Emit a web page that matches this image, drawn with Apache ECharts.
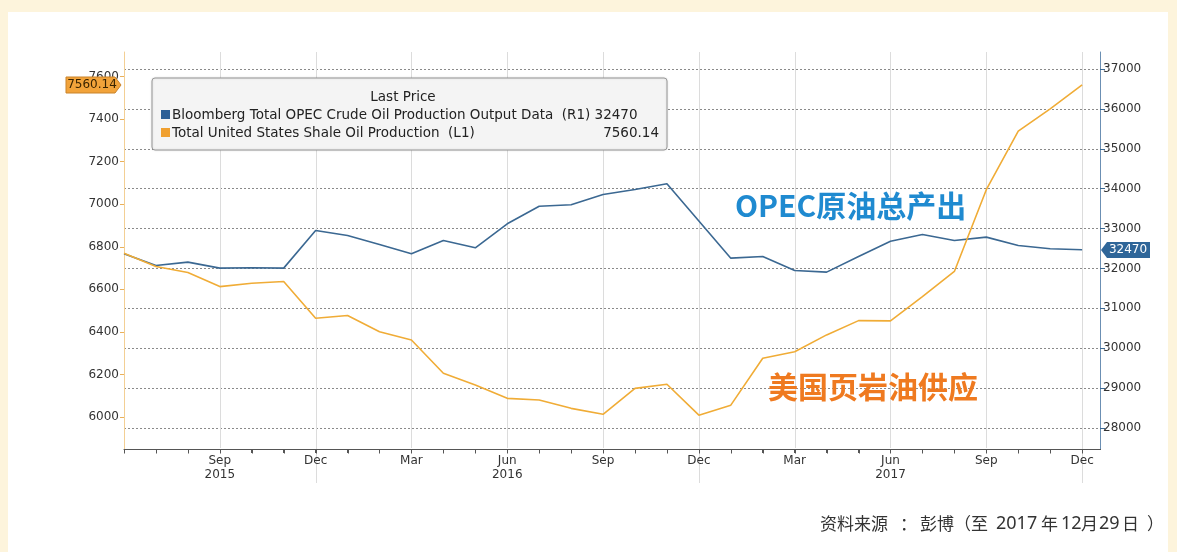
<!DOCTYPE html>
<html>
<head>
<meta charset="utf-8">
<script src="https://cdn.jsdelivr.net/npm/echarts@6/dist/echarts.min.js"></script>
<style>
  html, body { margin: 0; padding: 0; background: #fdf4dc; }
  #panel { position: absolute; left: 8px; top: 12px; width: 1160px; height: 540px; background: #ffffff; }
  #chart { position: absolute; left: 0; top: 0; width: 1177px; height: 552px; }
</style>
</head>
<body>
<div id="panel"></div>
<div id="chart"></div>
<script>
// Monthly observations, Jun 2015 – Dec 2017
const months = [
  '2015-06', '2015-07', '2015-08', '2015-09', '2015-10', '2015-11', '2015-12',
  '2016-01', '2016-02', '2016-03', '2016-04', '2016-05', '2016-06', '2016-07',
  '2016-08', '2016-09', '2016-10', '2016-11', '2016-12', '2017-01', '2017-02',
  '2017-03', '2017-04', '2017-05', '2017-06', '2017-07', '2017-08', '2017-09',
  '2017-10', '2017-11', '2017-12'
];

// Total United States Shale Oil Production (L1)
const shaleOil = [
  6770, 6707, 6679, 6613, 6629, 6637, 6464,
  6477, 6401, 6362, 6206, 6151, 6088, 6080,
  6041, 6013, 6135, 6154, 6009, 6056, 6276,
  6307, 6386, 6453, 6452, 6566, 6684, 7068,
  7343, 7448, 7560.14
];

// Bloomberg Total OPEC Crude Oil Production Output Data (R1)
const opecOutput = [
  32370, 32075, 32158, 32008, 32017, 32008, 32952,
  32827, 32601, 32368, 32702, 32518, 33120, 33561,
  33596, 33854, 33980, 34122, 33190, 32258, 32301,
  31950, 31908, 32301, 32684, 32852, 32702, 32785,
  32576, 32494, 32470
];

// Quarterly date labels on the time axis
const tickMonths = ['2015-09', '2015-12', '2016-03', '2016-06', '2016-09', '2016-12', '2017-03', '2017-06', '2017-09', '2017-12'];
const tickLabels = ['Sep\n2015', 'Dec', 'Mar', 'Jun\n2016', 'Sep', 'Dec', 'Mar', 'Jun\n2017', 'Sep', 'Dec'];
const yearBreaks = ['2015-12', '2016-12', '2017-12'];

// Value-axis ticks
const leftTicks = [6000, 6200, 6400, 6600, 6800, 7000, 7200, 7400, 7600];
const rightTicks = [28000, 29000, 30000, 31000, 32000, 33000, 34000, 35000, 36000, 37000];

const seriesNames = [
  'Bloomberg Total OPEC Crude Oil Production Output Data',
  'Total United States Shale Oil Production'
];

const FONT = '"DejaVu Sans", Verdana, sans-serif';
const CJK = '"Noto Sans CJK SC", sans-serif';
const BLUE_LINE = '#3b6892';
const ORANGE_LINE = '#f0ac36';
const AXIS_GREY = '#555';

// x position: month number counted from Jan 2015 (Jun 2015 = 6)
const monthNo = m => { const [y, mo] = m.split('-').map(Number); return (y - 2015) * 12 + mo; };
const xs = months.map(monthNo);
const tickPos = tickMonths.map(monthNo);
const breakPos = yearBreaks.map(monthNo);
const xMin = xs[0], xMax = xs[xs.length - 1] + 0.56;
const plain = v => String(v);

const chart = echarts.init(document.getElementById('chart'), null, { renderer: 'canvas' });

chart.setOption({
  animation: false,
  backgroundColor: 'transparent',
  grid: { left: 124, right: 77, top: 52, bottom: 103 },
  xAxis: {
    type: 'value', min: xMin, max: xMax, position: 'bottom',
    axisLine: { show: true, lineStyle: { color: AXIS_GREY, width: 1 } },
    axisTick: { show: true, customValues: xs, length: 4, lineStyle: { color: AXIS_GREY } },
    axisLabel: {
      customValues: tickPos,
      formatter: v => tickLabels[tickPos.indexOf(Math.round(v))] || '',
      color: '#333', fontFamily: FONT, fontSize: 12, lineHeight: 14, margin: 5
    },
    splitLine: { show: false }
  },
  yAxis: [
    {
      type: 'value', position: 'left', min: 5850, max: 7715,
      axisLine: { show: true, lineStyle: { color: '#f3cf94', width: 1 } },
      axisTick: { show: true, customValues: leftTicks, length: 4, lineStyle: { color: '#e9b05a' } },
      axisLabel: { customValues: leftTicks, formatter: plain, color: '#333', fontFamily: FONT, fontSize: 12, margin: 5 },
      splitLine: { show: false }
    },
    {
      type: 'value', position: 'right', min: 27474, max: 37426,
      axisLine: { show: true, lineStyle: { color: '#6b8fb3', width: 1 } },
      axisTick: { show: true, customValues: rightTicks, length: 5, lineStyle: { color: '#3d6a94' } },
      axisLabel: { customValues: rightTicks, formatter: plain, color: '#333', fontFamily: FONT, fontSize: 12, margin: 3 },
      splitLine: { show: true, lineStyle: { color: '#8a8a8a', width: 1, type: [2, 2] } }
    }
  ],
  series: [
    {
      name: seriesNames[0], type: 'line', yAxisIndex: 1,
      data: opecOutput.map((v, i) => [xs[i], v]),
      showSymbol: false, smooth: false,
      lineStyle: { color: BLUE_LINE, width: 1.6 }, z: 3
    },
    {
      name: seriesNames[1], type: 'line', yAxisIndex: 0,
      data: shaleOil.map((v, i) => [xs[i], v]),
      showSymbol: false, smooth: false,
      lineStyle: { color: ORANGE_LINE, width: 1.6 }, z: 4
    }
  ]
});

// Latest values for the legend and the axis tags
const lastOpec = opecOutput[opecOutput.length - 1];
const lastShale = shaleOil[shaleOil.length - 1];
const yR = Math.round(chart.convertToPixel({ yAxisIndex: 1 }, lastOpec));
const yL = Math.round(chart.convertToPixel({ yAxisIndex: 0 }, lastShale));

// Plot extents in pixels
const plotTop = Math.round(chart.convertToPixel({ yAxisIndex: 0 }, 7715));
const plotBottom = Math.round(chart.convertToPixel({ yAxisIndex: 0 }, 5850));
const xPix = v => Math.round(chart.convertToPixel({ xAxisIndex: 0 }, v)) + 0.5;
const baseY = plotBottom + 0.5;

// Quarterly vertical gridlines; year boundaries run down through the date labels
const gridLines = tickPos.map(v => ({
  type: 'line', z: 0, silent: true,
  shape: { x1: xPix(v), y1: plotTop, x2: xPix(v), y2: breakPos.includes(v) ? plotBottom + 34 : plotBottom - 1 },
  style: { stroke: '#dcdcdc', lineWidth: 1 }
}));

// Date axis baseline (a 1px bar) with a tick at every month
const baseLine = [{
  type: 'rect', z: 30, silent: true,
  shape: { x: xPix(xMin) - 0.5, y: plotBottom, width: xPix(xMax) - xPix(xMin) + 1, height: 1 },
  style: { fill: AXIS_GREY }
}].concat(xs.map(v => ({
  type: 'line', z: 5, silent: true,
  shape: { x1: xPix(v), y1: baseY, x2: xPix(v), y2: baseY + 4 },
  style: { stroke: AXIS_GREY, lineWidth: 1 }
})));

const legendFont = '13.5px ' + FONT;
const noteFont = '17px ' + CJK;
const digitFont = '18px "Noto Sans", sans-serif';
const note = (text, x, font) => ({
  type: 'text', z: 10, x: x, y: 524,
  style: { text: text, font: font, fill: '#333', verticalAlign: 'middle' }
});

chart.setOption({
  graphic: gridLines.concat(baseLine, [
    // legend box
    {
      type: 'rect', z: 20, shape: { x: 152, y: 78, width: 515, height: 72, r: 3 },
      style: { fill: '#f4f4f4', stroke: '#9a9a9a', lineWidth: 1, shadowBlur: 2, shadowColor: 'rgba(0,0,0,0.15)' }
    },
    {
      type: 'text', z: 21, x: 403, y: 97,
      style: { text: 'Last Price', font: legendFont, fill: '#222', align: 'center', verticalAlign: 'middle' }
    },
    {
      type: 'rect', z: 21, shape: { x: 161, y: 110, width: 9, height: 9 }, style: { fill: '#2d5f96' }
    },
    {
      type: 'text', z: 21, x: 172, y: 115,
      style: { text: seriesNames[0] + '  (R1) ' + lastOpec, font: legendFont, fill: '#222', verticalAlign: 'middle' }
    },
    {
      type: 'rect', z: 21, shape: { x: 161, y: 128, width: 9, height: 9 }, style: { fill: '#f0a030' }
    },
    {
      type: 'text', z: 21, x: 172, y: 133,
      style: { text: seriesNames[1] + '  (L1)', font: legendFont, fill: '#222', verticalAlign: 'middle' }
    },
    {
      type: 'text', z: 21, x: 659, y: 133,
      style: { text: String(lastShale), font: legendFont, fill: '#222', align: 'right', verticalAlign: 'middle' }
    },
    // left axis tag
    {
      type: 'polygon', z: 22,
      shape: { points: [[66, yL - 8], [115, yL - 8], [121, yL], [115, yL + 8], [66, yL + 8]] },
      style: { fill: '#f2a33a', stroke: '#c9832a', lineWidth: 1 }
    },
    {
      type: 'text', z: 23, x: 92, y: yL,
      style: { text: String(lastShale), font: '12px ' + FONT, fill: '#3a2400', align: 'center', verticalAlign: 'middle' }
    },
    // right axis tag
    {
      type: 'polygon', z: 22,
      shape: { points: [[1101, yR], [1107, yR - 8], [1150, yR - 8], [1150, yR + 8], [1107, yR + 8]] },
      style: { fill: '#2f6699' }
    },
    {
      type: 'text', z: 23, x: 1128, y: yR,
      style: { text: String(lastOpec), font: '12px ' + FONT, fill: '#ffffff', align: 'center', verticalAlign: 'middle' }
    },
    // series annotations
    {
      type: 'text', z: 10, x: 735, y: 206,
      style: { text: 'OPEC原油总产出', font: 'bold 30px ' + CJK, fill: '#1f8ad0', verticalAlign: 'middle' }
    },
    {
      type: 'text', z: 10, x: 768, y: 387,
      style: { text: '美国页岩油供应', font: 'bold 30px ' + CJK, fill: '#ef7a20', verticalAlign: 'middle' }
    },
    // source note
    note('资料来源', 820, noteFont),
    note('：', 900, noteFont),
    note('彭博（至', 920, noteFont),
    note('2017', 996, digitFont),
    note('年', 1041, noteFont),
    note('12', 1061, digitFont),
    note('月', 1081, noteFont),
    note('29', 1099, digitFont),
    note('日', 1122, noteFont),
    note('）', 1147, noteFont)
  ])
});
</script>
</body>
</html>
